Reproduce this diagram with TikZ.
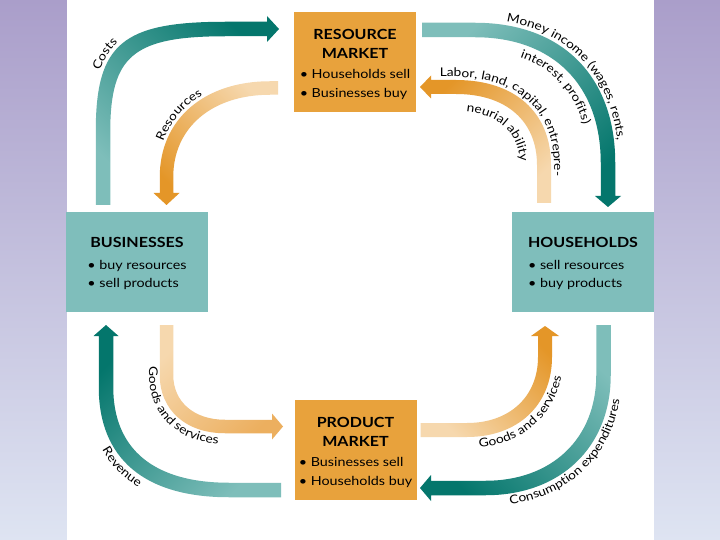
\documentclass[tikz,border=0pt]{standalone}
\usepackage{fontspec}
\setmainfont{Lato}[FakeStretch=1.15]
\usetikzlibrary{decorations.text}
\definecolor{bgtop}{RGB}{170,158,202}
\definecolor{bgmid}{RGB}{200,190,220}
\definecolor{bgbot}{RGB}{222,228,242}
\definecolor{tealbox}{RGB}{127,190,187}
\definecolor{orangebox}{RGB}{232,162,60}
\definecolor{tealD}{RGB}{4,118,108}
\definecolor{tealL}{RGB}{126,190,186}
\definecolor{orD}{RGB}{228,150,40}
\definecolor{orM}{RGB}{236,175,95}
\definecolor{orL}{RGB}{246,216,174}
\newcommand\hd{\fontsize{14}{19}\selectfont\bfseries}
\newcommand\bul{\fontsize{12.5}{19}\selectfont}
\newcommand\lblfont{\fontsize{12}{14}\selectfont}
\pgfkeys{/band/.cd,
  cx/.store in=\bcx, cy/.store in=\bcy,
  rx/.store in=\brx, ry/.store in=\bry,
  sx/.store in=\bsx, sy/.store in=\bsy,
  k/.store in=\bk, w/.store in=\bw, h/.store in=\bh,
  tail/.store in=\btail, base/.store in=\bbase, tip/.store in=\btip,
  light/.store in=\blight, dark/.store in=\bdark, angle/.store in=\bangle,
  d/.store in=\td, ea/.store in=\tea, eb/.store in=\teb,
  k=0.6, w=7, h=13, d=10, ea=1, eb=1}
% band whose head is on the horizontal leg
\newcommand\bandH[1]{%
 \pgfkeys{/band/.cd,#1}%
 \shade[top color=\bdark,bottom color=\blight,shading angle=\bangle]
  ({\bcx+(\bsx)*(\brx+\bw)},\btail) -- ({\bcx+(\bsx)*(\brx+\bw)},\bcy)
  .. controls ({\bcx+(\bsx)*(\brx+\bw)},{\bcy+(\bsy)*\bk*(\bry+\bw)}) and ({\bcx+(\bsx)*\bk*(\brx+\bw)},{\bcy+(\bsy)*(\bry+\bw)}) .. (\bcx,{\bcy+(\bsy)*(\bry+\bw)})
  -- (\bbase,{\bcy+(\bsy)*(\bry+\bw)}) -- (\bbase,{\bcy+(\bsy)*(\bry+\bh)}) -- (\btip,{\bcy+(\bsy)*\bry})
  -- (\bbase,{\bcy+(\bsy)*(\bry-\bh)}) -- (\bbase,{\bcy+(\bsy)*(\bry-\bw)}) -- (\bcx,{\bcy+(\bsy)*(\bry-\bw)})
  .. controls ({\bcx+(\bsx)*\bk*(\brx-\bw)},{\bcy+(\bsy)*(\bry-\bw)}) and ({\bcx+(\bsx)*(\brx-\bw)},{\bcy+(\bsy)*\bk*(\bry-\bw)}) .. ({\bcx+(\bsx)*(\brx-\bw)},\bcy)
  -- ({\bcx+(\bsx)*(\brx-\bw)},\btail) -- cycle;}
% band whose head is on the vertical leg
\newcommand\bandV[1]{%
 \pgfkeys{/band/.cd,#1}%
 \shade[top color=\bdark,bottom color=\blight,shading angle=\bangle]
  (\btail,{\bcy+(\bsy)*(\bry+\bw)}) -- (\bcx,{\bcy+(\bsy)*(\bry+\bw)})
  .. controls ({\bcx+(\bsx)*\bk*(\brx+\bw)},{\bcy+(\bsy)*(\bry+\bw)}) and ({\bcx+(\bsx)*(\brx+\bw)},{\bcy+(\bsy)*\bk*(\bry+\bw)}) .. ({\bcx+(\bsx)*(\brx+\bw)},\bcy)
  -- ({\bcx+(\bsx)*(\brx+\bw)},\bbase) -- ({\bcx+(\bsx)*(\brx+\bh)},\bbase) -- ({\bcx+(\bsx)*\brx},\btip)
  -- ({\bcx+(\bsx)*(\brx-\bh)},\bbase) -- ({\bcx+(\bsx)*(\brx-\bw)},\bbase) -- ({\bcx+(\bsx)*(\brx-\bw)},\bcy)
  .. controls ({\bcx+(\bsx)*(\brx-\bw)},{\bcy+(\bsy)*\bk*(\bry-\bw)}) and ({\bcx+(\bsx)*\bk*(\brx-\bw)},{\bcy+(\bsy)*(\bry-\bw)}) .. (\bcx,{\bcy+(\bsy)*(\bry-\bw)})
  -- (\btail,{\bcy+(\bsy)*(\bry-\bw)}) -- cycle;}
% curved labels: vertical leg -> horizontal leg
\newcommand\labAB[2]{%
 \pgfkeys{/band/.cd,#1}%
 \path[decorate,decoration={text along path,text align=center,text={|\lblfont|#2}}]
  ({\bcx+(\bsx)*(\brx+\td)},{\bcy-(\bsy)*\tea}) -- ({\bcx+(\bsx)*(\brx+\td)},\bcy)
  .. controls ({\bcx+(\bsx)*(\brx+\td)},{\bcy+(\bsy)*\bk*(\bry+\td)}) and ({\bcx+(\bsx)*\bk*(\brx+\td)},{\bcy+(\bsy)*(\bry+\td)}) .. (\bcx,{\bcy+(\bsy)*(\bry+\td)})
  -- ({\bcx-(\bsx)*\teb},{\bcy+(\bsy)*(\bry+\td)});}
% curved labels: horizontal leg -> vertical leg
\newcommand\labBA[2]{%
 \pgfkeys{/band/.cd,#1}%
 \path[decorate,decoration={text along path,text align=center,text={|\lblfont|#2}}]
  ({\bcx-(\bsx)*\teb},{\bcy+(\bsy)*(\bry+\td)}) -- (\bcx,{\bcy+(\bsy)*(\bry+\td)})
  .. controls ({\bcx+(\bsx)*\bk*(\brx+\td)},{\bcy+(\bsy)*(\bry+\td)}) and ({\bcx+(\bsx)*(\brx+\td)},{\bcy+(\bsy)*\bk*(\bry+\td)}) .. ({\bcx+(\bsx)*(\brx+\td)},\bcy)
  -- ({\bcx+(\bsx)*(\brx+\td)},{\bcy-(\bsy)*\tea});}
\begin{document}
\begin{tikzpicture}[x=1bp,y=-1bp,
  obox/.style={fill=orangebox,inner sep=0pt,outer sep=0pt,minimum width=122bp,minimum height=100bp,font=\bul,text=black},
  tbox/.style={fill=tealbox,inner sep=0pt,outer sep=0pt,minimum width=142bp,minimum height=100bp,font=\bul,text=black}]
\useasboundingbox (0,0) rectangle (720,540);
% background
\shade[top color=bgtop,middle color=bgmid,bottom color=bgbot] (0,0) rectangle (67,540);
\shade[top color=bgtop,middle color=bgmid,bottom color=bgbot] (653,0) rectangle (720,540);
\fill[white] (66.5,0) rectangle (653.5,540);
% flows
\bandH{cx=226,cy=132,rx=123,ry=103,sx=-1,sy=-1,k=0.8,w=7.25,h=13,tail=205,base=267,tip=279,light=tealL,dark=tealD,angle=-45}
\bandV{cx=270,cy=177,rx=103.5,ry=89,sx=-1,sy=-1,k=0.6,w=6.75,h=13,tail=278,base=193,tip=205,light=orL,dark=orD,angle=135}
\bandV{cx=475,cy=163,rx=133,ry=133,sx=1,sy=-1,k=0.62,w=7.25,h=13,tail=422,base=196,tip=207,light=tealL,dark=tealD,angle=-135}
\bandH{cx=456,cy=165,rx=88,ry=78,sx=1,sy=-1,k=0.62,w=7,h=11.5,tail=203,base=431,tip=420,light=orL,dark=orD,angle=45}
\bandH{cx=225,cy=375,rx=58.5,ry=51.5,sx=-1,sy=1,k=0.6,w=6.75,h=13,tail=325,base=272,tip=283,light=orL,dark=orM,angle=-135}
\bandV{cx=229,cy=387,rx=123,ry=103,sx=-1,sy=1,k=0.65,w=7.25,h=12.5,tail=281,base=336,tip=325,light=tealL,dark=tealD,angle=45}
\bandV{cx=467,cy=357,rx=78,ry=73,sx=1,sy=1,k=0.6,w=7,h=14,tail=420.5,base=336,tip=326,light=orL,dark=orD,angle=-45}
\bandH{cx=485.5,cy=375,rx=118,ry=113,sx=1,sy=1,k=0.6,w=7.25,h=13,tail=325,base=431,tip=420,light=tealL,dark=tealD,angle=135}
% boxes
\node[obox] (rm) at (355,62) {};
\node[obox] (pm) at (355.5,450) {};
\node[tbox] (bus) at (137,262) {};
\node[tbox] (hh) at (583,262) {};
\node[font=\bul,inner sep=0pt] (rmt) at ([yshift=-3bp]rm.center) {\begin{tabular}{@{}l@{}}\multicolumn{1}{@{}c@{}}{\hd RESOURCE}\\\multicolumn{1}{@{}c@{}}{\hd MARKET}\\[1pt]• Households sell\\• Businesses buy\end{tabular}};
\node[font=\bul,inner sep=0pt] (pmt) at ([yshift=-2.5bp]pm.center) {\begin{tabular}{@{}l@{}}\multicolumn{1}{@{}c@{}}{\hd PRODUCT}\\\multicolumn{1}{@{}c@{}}{\hd MARKET}\\[1pt]• Businesses sell\\• Households buy\end{tabular}};
\node[font=\bul,inner sep=0pt] (bust) at ([yshift=-2bp]bus.center) {\begin{tabular}{@{}l@{}}\multicolumn{1}{@{}c@{}}{\hd BUSINESSES}\\[2.5pt]• buy resources\\• sell products\end{tabular}};
\node[font=\bul,inner sep=0pt] (hht) at ([yshift=-2bp]hh.center) {\begin{tabular}{@{}l@{}}\multicolumn{1}{@{}c@{}}{\hd HOUSEHOLDS}\\[2.5pt]• sell resources\\• buy products\end{tabular}};
% labels
\labAB{cx=226,cy=132,rx=123,ry=103,sx=-1,sy=-1,k=0.8,d=10.5,ea=52,eb=1}{Costs}
\labAB{cx=270,cy=177,rx=103.5,ry=89,sx=-1,sy=-1,k=0.6,d=9.5,ea=35,eb=1}{Resources}
\labBA{cx=475,cy=163,rx=133,ry=133,sx=1,sy=-1,k=0.62,d=10.5,ea=10,eb=1}{Money income (wages, rents,}
\labBA{cx=475,cy=163,rx=133,ry=133,sx=1,sy=-1,k=0.62,d=-20,ea=8,eb=1}{interest, profits)}
\labBA{cx=456,cy=165,rx=88,ry=78,sx=1,sy=-1,k=0.62,d=10,ea=30,eb=35}{Labor, land, capital, entrepre-}
\labBA{cx=456,cy=165,rx=88,ry=78,sx=1,sy=-1,k=0.62,d=-24,ea=8,eb=1}{neurial ability}
\labAB{cx=225,cy=375,rx=58.5,ry=51.5,sx=-1,sy=1,k=0.6,d=17.5,ea=30,eb=15}{Goods and services}
\labAB{cx=229,cy=387,rx=123,ry=103,sx=-1,sy=1,k=0.65,d=18,ea=30,eb=1}{Revenue}
\labBA{cx=467,cy=357,rx=78,ry=73,sx=1,sy=1,k=0.6,d=18,ea=5,eb=12}{Goods and services}
\labBA{cx=485.5,cy=375,rx=118,ry=113,sx=1,sy=1,k=0.6,d=18,ea=1,eb=1}{Consumption expenditures}
\end{tikzpicture}
\end{document}
